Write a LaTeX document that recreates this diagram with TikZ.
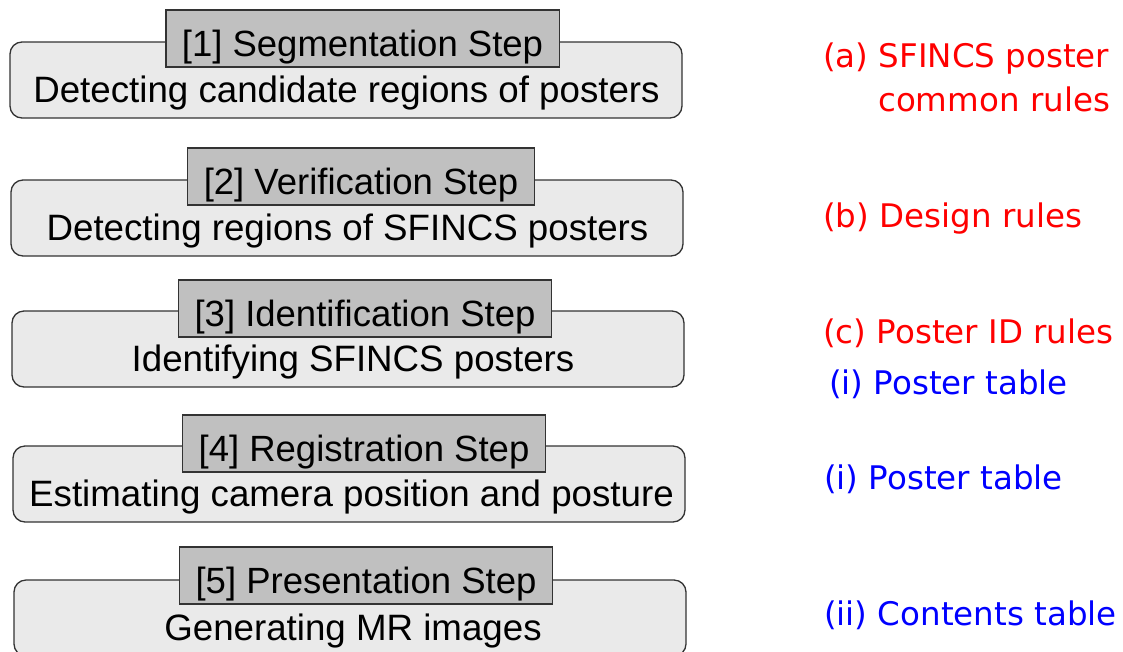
\documentclass[tikz,border=0pt]{standalone}
\usepackage{fontspec}
\setmainfont{Liberation Sans}
\newfontfamily\notefont{DejaVu Sans}
\definecolor{framegray}{HTML}{EAEAEA}
\definecolor{titlegray}{HTML}{C0C0C0}
\definecolor{edgegray}{HTML}{333333}
\begin{document}
\begin{tikzpicture}[x=1pt,y=-1pt,
  stepframe/.style={draw=edgegray, line width=1.3pt, fill=framegray,
    rounded corners=12pt, minimum width=672pt, minimum height=76pt, inner sep=0pt},
  steptitle/.style={draw=edgegray, line width=1.2pt, fill=titlegray,
    inner xsep=16pt, inner ysep=0pt, text height=46.5pt, text depth=10.5pt,
    font=\fontsize{36.5}{40}\selectfont},
  stepdesc/.style={anchor=base, inner sep=0pt, font=\fontsize{36.7}{40}\selectfont},
  rulenote/.style={anchor=base west, inner sep=0pt, text=red,
    font=\notefont\fontsize{32.5}{40}\selectfont},
  tablenote/.style={rulenote, text=blue}]
\useasboundingbox (0,0) rectangle (1123,651);
\clip (0,0) rectangle (1123,651);

% processing steps
\node[stepframe] (s1) at (346,80) {};
\node[steptitle] (t1) at (362.5,38.5) {[1] Segmentation Step};
\node[stepdesc] (d1) at (346.5,102) {Detecting candidate regions of posters};

\node[stepframe] (s2) at (347,218) {};
\node[steptitle] (t2) at (361,176.5) {[2] Verification Step};
\node[stepdesc] (d2) at (347.5,240) {Detecting regions of SFINCS posters};

\node[stepframe] (s3) at (348,349) {};
\node[steptitle] (t3) at (365,308.5) {[3] Identification Step};
\node[stepdesc] (d3) at (353,371) {Identifying SFINCS posters};

\node[stepframe] (s4) at (349,484) {};
\node[steptitle] (t4) at (364,443.5) {[4] Registration Step};
\node[stepdesc] (d4) at (351.5,506) {Estimating camera position and posture};

\node[stepframe] (s5) at (350,618) {};
\node[steptitle] (t5) at (366,575.5) {[5] Presentation Step};
\node[stepdesc] (d5) at (353,640) {Generating MR images};

% rules and tables used by each step
\node[rulenote] (ra) at (823,67) {(a) SFINCS poster};
\node[rulenote] (ra2) at (878,111) {common rules};
\node[rulenote] (rb) at (823,227) {(b) Design rules};
\node[rulenote] (rc) at (823,343) {(c) Poster ID rules};
\node[tablenote] (ti1) at (829,394) {(i) Poster table};
\node[tablenote] (ti2) at (824,489) {(i) Poster table};
\node[tablenote] (tii) at (824,625) {(ii) Contents table};
\end{tikzpicture}
\end{document}
